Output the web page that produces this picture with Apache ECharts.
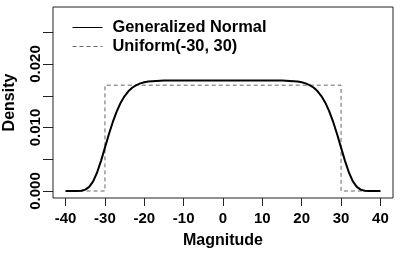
<!DOCTYPE html>
<html>
<head>
<meta charset="utf-8">
<script src="https://cdn.jsdelivr.net/npm/echarts@6/dist/echarts.min.js"></script>
<style>html,body{margin:0;padding:0;background:#fff}#c{width:400px;height:253px}</style>
</head>
<body>
<div id="c"></div>
<script>
// Data
const magnitude = [-40,-39,-38,-37,-36,-35,-34,-33,-32,-31,-30,-29,-28,-27,-26,-25,-24,-23,-22,-21,-20,-19,-18,-17,-16,-15,-14,-13,-12,-11,-10,-9,-8,-7,-6,-5,-4,-3,-2,-1,0,1,2,3,4,5,6,7,8,9,10,11,12,13,14,15,16,17,18,19,20,21,22,23,24,25,26,27,28,29,30,31,32,33,34,35,36,37,38,39,40];
const genNormal = [0,0,0,0.00001,0.00005,0.00022,0.00066,0.00153,0.00292,0.00475,0.00683,0.00894,0.01088,0.01255,0.01391,0.01495,0.01574,0.0163,0.01668,0.01695,0.01712,0.01723,0.0173,0.01734,0.01737,0.0174,0.0174,0.0174,0.0174,0.0174,0.0174,0.0174,0.0174,0.0174,0.0174,0.0174,0.0174,0.0174,0.0174,0.0174,0.0174,0.0174,0.0174,0.0174,0.0174,0.0174,0.0174,0.0174,0.0174,0.0174,0.0174,0.0174,0.0174,0.0174,0.0174,0.0174,0.01737,0.01734,0.0173,0.01723,0.01712,0.01695,0.01668,0.0163,0.01574,0.01495,0.01391,0.01255,0.01088,0.00894,0.00683,0.00475,0.00292,0.00153,0.00066,0.00022,0.00005,0.00001,0,0,0];
const uniformX = [-40,-30,-30,30,30,40];
const uniformY = [0,0,0.016667,0.016667,0,0];
const xTicks = [-40,-30,-20,-10,0,10,20,30,40];
const yTicks = [0,0.005,0.01,0.015,0.02,0.025];
const yLabels = [0,0.01,0.02];
const seriesNames = ['Generalized Normal','Uniform(-30, 30)'];

const FONT = '"Liberation Sans", Arial, sans-serif';
const chart = echarts.init(document.getElementById('c'), null, {renderer:'canvas'});
chart.setOption({
  animation: false,
  backgroundColor: '#fff',
  grid: {left: 53, right: 7, top: 7, bottom: 55, containLabel: false, outerBoundsMode: 'none', show: true, borderColor: '#222', borderWidth: 1, backgroundColor: 'transparent'},
  legend: {
    orient: 'vertical', left: 67, top: 13,
    itemWidth: 30, itemHeight: 14, itemGap: 0,
    itemStyle: {opacity: 0},
    lineStyle: {width: 1},
    textStyle: {fontFamily: FONT, fontWeight: 'bold', fontSize: 16.4, color: '#000', lineHeight: 19, padding: [0,0,0,5]},
    data: seriesNames
  },
  xAxis: {
    type: 'value', min: -43.2, max: 43.2,
    name: 'Magnitude', nameLocation: 'middle', nameGap: 35,
    nameTextStyle: {fontFamily: FONT, fontWeight: 'bold', fontSize: 16, color: '#000'},
    axisLine: {show: false, onZero: false},
    axisTick: {show: true, customValues: xTicks, length: 8, lineStyle: {color: '#222', width: 1}},
    axisLabel: {customValues: xTicks, margin: 13, fontFamily: FONT, fontWeight: 'bold', fontSize: 15, color: '#000', formatter: v => String(v)},
    splitLine: {show: false}
  },
  yAxis: {
    type: 'value', min: -0.0011, max: 0.02898,
    name: 'Density', nameLocation: 'middle', nameGap: 35, nameRotate: 90,
    nameTextStyle: {fontFamily: FONT, fontWeight: 'bold', fontSize: 16, color: '#000'},
    axisLine: {show: false, onZero: false},
    axisTick: {show: true, customValues: yTicks, length: 10, lineStyle: {color: '#222', width: 1}},
    axisLabel: {customValues: yLabels, rotate: 90, margin: 10, fontFamily: FONT, fontWeight: 'bold', fontSize: 15, color: '#000', formatter: v => v.toFixed(3)},
    splitLine: {show: false}
  },
  series: [
    {name: seriesNames[0], type: 'line', showSymbol: false, symbol: 'none', data: magnitude.map((x,i) => [x, genNormal[i]]), lineStyle: {color: '#000', width: 2}, itemStyle: {color: '#000'}, z: 3},
    {name: seriesNames[1], type: 'line', showSymbol: false, symbol: 'none', data: uniformX.map((x,i) => [x, uniformY[i]]), lineStyle: {color: '#666', width: 1, type: [4,3]}, itemStyle: {color: '#666'}, z: 2}
  ]
});
</script>
</body>
</html>
